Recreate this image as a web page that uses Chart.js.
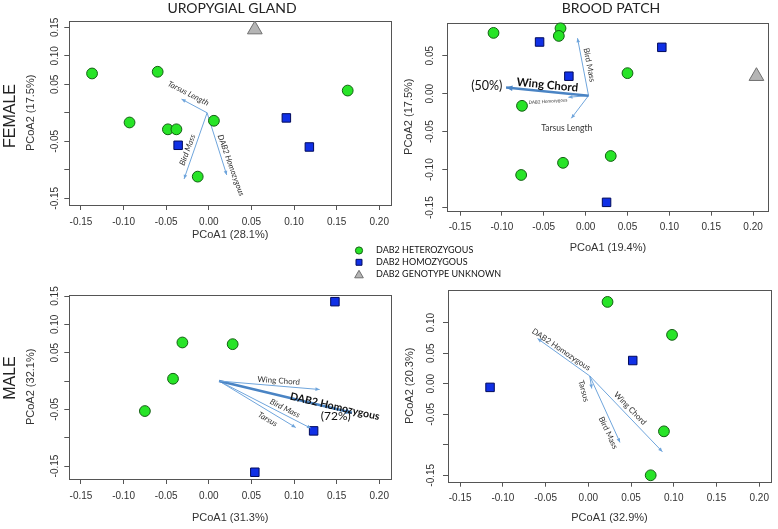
<!DOCTYPE html>
<html>
<head>
<meta charset="utf-8">
<script src="https://cdn.jsdelivr.net/npm/chart.js@4.4.1/dist/chart.umd.min.js"></script>
<style>
  html, body { margin: 0; padding: 0; background: #fff; }
  #wrap { position: relative; width: 778px; height: 529px; overflow: hidden; }
  #wrap canvas { position: absolute; left: 0; top: 0; }
</style>
</head>
<body>
<div id="wrap"></div>
<script>
/* PCoA biplots: uropygial gland / brood patch, female / male */

const W = 778, H = 529;

// shared x axis
const xTicks = [-0.15, -0.10, -0.05, 0.00, 0.05, 0.10, 0.15, 0.20];
const xTickLabels = ['-0.15', '-0.10', '-0.05', '0.00', '0.05', '0.10', '0.15', '0.20'];

// y axes (R drops labels that would overlap)
const ugFemaleYTicks = [-0.15, -0.10, -0.05, 0.00, 0.05, 0.10, 0.15];
const ugFemaleYLabels = ['-0.15', '', '-0.05', '', '0.05', '0.10', '0.15'];
const bpFemaleYTicks = [-0.15, -0.10, -0.05, 0.00, 0.05];
const bpFemaleYLabels = ['-0.15', '-0.10', '-0.05', '0.00', '0.05'];
const ugMaleYTicks = [-0.15, -0.10, -0.05, 0.00, 0.05, 0.10, 0.15];
const ugMaleYLabels = ['-0.15', '', '-0.05', '', '0.05', '0.10', '0.15'];
const bpMaleYTicks = [-0.15, -0.10, -0.05, 0.00, 0.05, 0.10];
const bpMaleYLabels = ['-0.15', '', '-0.05', '0.00', '0.05', '0.10'];

const groupNames = ['DAB2 HETEROZYGOUS', 'DAB2 HOMOZYGOUS', 'DAB2 GENOTYPE UNKNOWN'];
const glandNames = ['UROPYGIAL GLAND', 'BROOD PATCH'];
const sexNames = ['FEMALE', 'MALE'];

// UROPYGIAL GLAND - FEMALE
const ugFemaleHet = [[-0.137, 0.069], [-0.060, 0.072], [-0.093, -0.017], [-0.048, -0.029],
  [-0.038, -0.029], [0.006, -0.014], [-0.013, -0.112], [0.163, 0.039]];
const ugFemaleHom = [[-0.036, -0.057], [0.091, -0.009], [0.118, -0.060]];
const ugFemaleUnk = [[0.054, 0.146]];
const ugFemaleVecNames = ['Tarsus Length', 'Bird Mass', 'DAB2 Homozygous'];
const ugFemaleVecOrigin = [-0.002, 0.000];
const ugFemaleVecEnd = [[-0.032, 0.024], [-0.029, -0.116], [0.021, -0.109]];

// BROOD PATCH - FEMALE
const bpFemaleHet = [[-0.110, 0.080], [-0.030, 0.086], [-0.032, 0.076], [0.050, 0.027],
  [-0.076, -0.016], [-0.077, -0.107], [-0.027, -0.091], [0.030, -0.082]];
const bpFemaleHom = [[-0.055, 0.068], [-0.020, 0.023], [0.091, 0.061], [0.025, -0.143]];
const bpFemaleUnk = [[0.204, 0.023]];
const bpFemaleVecNames = ['Wing Chord', 'Bird Mass', 'DAB2 Homozygous', 'Tarsus Length'];
const bpFemaleVecOrigin = [0.0035, -0.0026];
const bpFemaleVecEnd = [[-0.095, 0.008], [-0.0097, 0.073], [-0.0206, -0.0047], [-0.0171, -0.0324]];
const bpFemaleTopShare = 50;

// UROPYGIAL GLAND - MALE
const ugMaleHet = [[-0.031, 0.068], [0.028, 0.065], [-0.042, 0.004], [-0.075, -0.053]];
const ugMaleHom = [[0.148, 0.140], [0.123, -0.088], [0.054, -0.161]];
const ugMaleUnk = [];
const ugMaleVecNames = ['Wing Chord', 'DAB2 Homozygous', 'Bird Mass', 'Tarsus'];
const ugMaleVecOrigin = [0.012, 0.000];
const ugMaleVecEnd = [[0.130, -0.015], [0.168, -0.056], [0.120, -0.0835], [0.102, -0.082]];
const ugMaleTopShare = 72;

// BROOD PATCH - MALE
const bpMaleHet = [[0.0225, 0.134], [0.098, 0.080], [0.0885, -0.078], [0.073, -0.150]];
const bpMaleHom = [[-0.115, -0.006], [0.052, 0.038]];
const bpMaleUnk = [];
const bpMaleVecNames = ['DAB2 Homozygous', 'Tarsus', 'Bird Mass', 'Wing Chord'];
const bpMaleVecOrigin = [0.0017, 0.0127];
const bpMaleVecEnd = [[-0.0594, 0.0739], [0.004, -0.0078], [0.0371, -0.0961], [0.0867, -0.1114]];

// ---- styles ----
const COLORS = {
  het: '#27e427', hetEdge: '#135f13',
  hom: '#1030e6', homEdge: '#000a5c',
  unk: '#b5b5b5', unkEdge: '#707070',
  vec: '#6fa5dc', vecBold: '#4a84c4',
  axis: '#555', text: '#333'
};
const AXIS_FONT = '"Liberation Sans", Arial, sans-serif';
const LBL_FONT = 'Lato, "Open Sans", sans-serif';

const panels = [
  {
    area: [69.3, 20.7, 391, 205], xr: [-0.1637, 0.2138], yr: [-0.1618, 0.1616],
    het: ugFemaleHet, hom: ugFemaleHom, unk: ugFemaleUnk,
    yTicks: ugFemaleYTicks, yLabels: ugFemaleYLabels, tickOff: 14,
    xTitle: 'PCoA1 (28.1%)', xTitleY: 235, yTitle: 'PCoA2 (17.5%)',
    origin: ugFemaleVecOrigin, vecEnd: ugFemaleVecEnd, bold: -1,
    labels: [
      { text: ugFemaleVecNames[0], x: -0.024, y: 0.034, rot: 27, font: 'italic 8px ' + LBL_FONT },
      { text: ugFemaleVecNames[1], x: -0.025, y: -0.065, rot: -70, font: 'italic 8px ' + LBL_FONT },
      { text: ugFemaleVecNames[2], x: 0.026, y: -0.092, rot: 70, font: 'italic 8px ' + LBL_FONT }
    ],
    title: glandNames[0], titleX: 232, row: sexNames[0], rowY: 116, legend: true
  },
  {
    area: [447.3, 22.7, 774.7, 210.7], xr: [-0.1652, 0.2184], yr: [-0.154, 0.0934],
    het: bpFemaleHet, hom: bpFemaleHom, unk: bpFemaleUnk,
    yTicks: bpFemaleYTicks, yLabels: bpFemaleYLabels, tickOff: 17,
    xTitle: 'PCoA1 (19.4%)', xTitleY: 248, yTitle: 'PCoA2 (17.5%)',
    origin: bpFemaleVecOrigin, vecEnd: bpFemaleVecEnd, bold: 0,
    labels: [
      { text: bpFemaleVecNames[0], x: -0.0457, y: 0.0114, rot: 5.7, font: 'bold 11.5px ' + LBL_FONT, color: '#111' },
      { text: '(' + bpFemaleTopShare + '%)', x: -0.118, y: 0.010, rot: 0, font: '12.5px ' + LBL_FONT, color: '#111' },
      { text: bpFemaleVecNames[1], x: 0.0043, y: 0.0378, rot: 79, font: '8px ' + LBL_FONT },
      { text: bpFemaleVecNames[2], x: -0.045, y: -0.010, rot: -4, font: '4.5px ' + LBL_FONT },
      { text: bpFemaleVecNames[3], x: -0.0226, y: -0.0455, rot: 0, font: '8.5px ' + LBL_FONT }
    ],
    title: glandNames[1], titleX: 611
  },
  {
    area: [69.3, 294.7, 391, 479], xr: [-0.1637, 0.2138], yr: [-0.1729, 0.1523],
    het: ugMaleHet, hom: ugMaleHom, unk: ugMaleUnk,
    yTicks: ugMaleYTicks, yLabels: ugMaleYLabels, tickOff: 14,
    xTitle: 'PCoA1 (31.3%)', xTitleY: 518, yTitle: 'PCoA2 (32.1%)',
    origin: ugMaleVecOrigin, vecEnd: ugMaleVecEnd, bold: 1,
    labels: [
      { text: ugMaleVecNames[0], x: 0.082, y: 0.0005, rot: 4, font: '8px ' + LBL_FONT },
      { text: ugMaleVecNames[1], x: 0.148, y: -0.045, rot: 13, font: 'bold 10.5px ' + LBL_FONT, color: '#111' },
      { text: '(' + ugMaleTopShare + '%)', x: 0.149, y: -0.0618, rot: 0, font: '12px ' + LBL_FONT, color: '#111' },
      { text: ugMaleVecNames[2], x: 0.0894, y: -0.0482, rot: 27, font: 'italic 8px ' + LBL_FONT },
      { text: ugMaleVecNames[3], x: 0.0691, y: -0.0676, rot: 30, font: 'italic 8px ' + LBL_FONT }
    ],
    row: sexNames[1], rowY: 378
  },
  {
    area: [448, 290, 776, 481.7], xr: [-0.1642, 0.2138], yr: [-0.1605, 0.1535],
    het: bpMaleHet, hom: bpMaleHom, unk: bpMaleUnk,
    yTicks: bpMaleYTicks, yLabels: bpMaleYLabels, tickOff: 17,
    xTitle: 'PCoA1 (32.9%)', xTitleY: 518, yTitle: 'PCoA2 (20.3%)',
    origin: bpMaleVecOrigin, vecEnd: bpMaleVecEnd, bold: -1,
    labels: [
      { text: bpMaleVecNames[0], x: -0.0317, y: 0.0559, rot: 34, font: '8px ' + LBL_FONT },
      { text: bpMaleVecNames[1], x: -0.0055, y: -0.0118, rot: 75, font: '8px ' + LBL_FONT },
      { text: bpMaleVecNames[2], x: 0.0233, y: -0.0804, rot: 65, font: '8px ' + LBL_FONT },
      { text: bpMaleVecNames[3], x: 0.049, y: -0.0405, rot: 46, font: '8px ' + LBL_FONT }
    ]
  }
];

const pts = arr => arr.map(([x, y]) => ({ x, y }));

/**
 * 外框、刻度文字、箭頭、標籤
 */
function makeDecor(cfg) {
  return {
    id: 'decor',
    beforeDatasetsDraw(chart) {
      const { ctx, chartArea: a } = chart;
      ctx.save();
      ctx.strokeStyle = COLORS.axis;
      ctx.lineWidth = 1;
      ctx.strokeRect(Math.round(a.left) + 0.5, Math.round(a.top) + 0.5,
        Math.round(a.right - a.left), Math.round(a.bottom - a.top));
      ctx.restore();
    },
    afterDatasetsDraw(chart) {
      const { ctx, chartArea: a } = chart;
      const xs = chart.scales.x, ys = chart.scales.y;
      ctx.save();
      ctx.fillStyle = COLORS.text;
      ctx.textAlign = 'center';
      ctx.textBaseline = 'middle';

      // tick labels
      ctx.font = '10px ' + AXIS_FONT;
      xTicks.forEach((v, i) => ctx.fillText(xTickLabels[i], xs.getPixelForValue(v), a.bottom + 17));
      cfg.yTicks.forEach((v, i) => {
        if (!cfg.yLabels[i]) return;
        ctx.save();
        ctx.translate(a.left - cfg.tickOff, ys.getPixelForValue(v));
        ctx.rotate(-Math.PI / 2);
        ctx.fillText(cfg.yLabels[i], 0, 0);
        ctx.restore();
      });

      // axis titles
      ctx.font = '11px ' + AXIS_FONT;
      ctx.fillText(cfg.xTitle, (a.left + a.right) / 2, cfg.xTitleY);
      ctx.save();
      ctx.translate(a.left - 38, (a.top + a.bottom) / 2);
      ctx.rotate(-Math.PI / 2);
      ctx.fillText(cfg.yTitle, 0, 0);
      ctx.restore();

      // arrow heads
      const ox = xs.getPixelForValue(cfg.origin[0]);
      const oy = ys.getPixelForValue(cfg.origin[1]);
      cfg.vecEnd.forEach((e, i) => {
        const ex = xs.getPixelForValue(e[0]), ey = ys.getPixelForValue(e[1]);
        const ang = Math.atan2(ey - oy, ex - ox);
        const bold = i === cfg.bold;
        const L = bold ? 7 : 4.5, sp = 0.42;
        ctx.fillStyle = bold ? COLORS.vecBold : COLORS.vec;
        ctx.beginPath();
        ctx.moveTo(ex, ey);
        ctx.lineTo(ex - L * Math.cos(ang - sp), ey - L * Math.sin(ang - sp));
        ctx.lineTo(ex - L * Math.cos(ang + sp), ey - L * Math.sin(ang + sp));
        ctx.closePath();
        ctx.fill();
      });

      // vector labels
      cfg.labels.forEach(l => {
        ctx.save();
        ctx.translate(xs.getPixelForValue(l.x), ys.getPixelForValue(l.y));
        ctx.rotate(l.rot * Math.PI / 180);
        ctx.font = l.font;
        ctx.fillStyle = l.color || COLORS.text;
        ctx.fillText(l.text, 0, 0);
        ctx.restore();
      });

      // panel title / row label
      ctx.fillStyle = '#222';
      if (cfg.title) {
        ctx.font = '14px ' + LBL_FONT;
        ctx.fillText(cfg.title, cfg.titleX, 8);
      }
      if (cfg.row) {
        ctx.save();
        ctx.font = '16px ' + AXIS_FONT;
        ctx.translate(11, cfg.rowY);
        ctx.rotate(-Math.PI / 2);
        ctx.fillText(cfg.row, 0, 0);
        ctx.restore();
      }

      // legend (middle of page)
      if (cfg.legend) {
        const styles = [
          { pointStyle: 'circle', radius: 3.6, fill: COLORS.het, edge: COLORS.hetEdge },
          { pointStyle: 'rect', radius: 4.2, fill: COLORS.hom, edge: COLORS.homEdge },
          { pointStyle: 'triangle', radius: 5, fill: COLORS.unk, edge: COLORS.unkEdge }
        ];
        const rowsY = [250.5, 262.3, 274.3];
        ctx.textAlign = 'left';
        ctx.font = '9px ' + LBL_FONT;
        groupNames.forEach((name, i) => {
          const s = styles[i];
          ctx.fillStyle = s.fill;
          ctx.strokeStyle = s.edge;
          ctx.lineWidth = 1;
          Chart.helpers.drawPoint(ctx, { pointStyle: s.pointStyle, radius: s.radius, rotation: 0, borderWidth: 1 },
            359, rowsY[i] + (i === 2 ? 1 : 0));
          ctx.fillStyle = '#111';
          ctx.fillText(name, 376, rowsY[i]);
        });
      }
      ctx.restore();
    }
  };
}

function makePanel(cfg) {
  const canvas = document.createElement('canvas');
  canvas.width = W;
  canvas.height = H;
  document.getElementById('wrap').appendChild(canvas);
  const a = cfg.area;

  const vecSets = cfg.vecEnd.map((e, i) => ({
    data: [{ x: cfg.origin[0], y: cfg.origin[1] }, { x: e[0], y: e[1] }],
    showLine: true,
    borderColor: i === cfg.bold ? COLORS.vecBold : COLORS.vec,
    borderWidth: i === cfg.bold ? 2.5 : 1,
    pointRadius: 0,
    fill: false,
    clip: false
  }));

  const axisBase = (range, ticks, isX) => ({
    type: 'linear',
    min: range[0],
    max: range[1],
    bounds: 'data',
    afterBuildTicks: s => { s.ticks = ticks.map(v => ({ value: v })); },
    afterFit: s => { if (isX) s.height = 0; else s.width = 0; },
    ticks: { display: false },
    grid: { drawOnChartArea: false, drawTicks: true, tickLength: 5, color: COLORS.axis, lineWidth: 1 },
    border: { display: false }
  });

  new Chart(canvas, {
    type: 'scatter',
    data: {
      datasets: [
        { data: pts(cfg.het), pointStyle: 'circle', pointRadius: 5.4, backgroundColor: COLORS.het,
          borderColor: COLORS.hetEdge, borderWidth: 1, clip: false },
        { data: pts(cfg.hom), pointStyle: 'rect', pointRadius: 6, backgroundColor: COLORS.hom,
          borderColor: COLORS.homEdge, borderWidth: 1, clip: false },
        { data: pts(cfg.unk), pointStyle: 'triangle', pointRadius: 8.5, backgroundColor: COLORS.unk,
          borderColor: COLORS.unkEdge, borderWidth: 1, clip: false },
        ...vecSets
      ]
    },
    options: {
      responsive: false,
      animation: false,
      events: [],
      layout: { padding: { left: a[0], top: a[1], right: W - a[2], bottom: H - a[3] } },
      plugins: { legend: { display: false }, tooltip: { enabled: false } },
      scales: {
        x: axisBase(cfg.xr, xTicks, true),
        y: axisBase(cfg.yr, cfg.yTicks, false)
      }
    },
    plugins: [makeDecor(cfg)]
  });
}

panels.forEach(makePanel);
</script>
</body>
</html>
